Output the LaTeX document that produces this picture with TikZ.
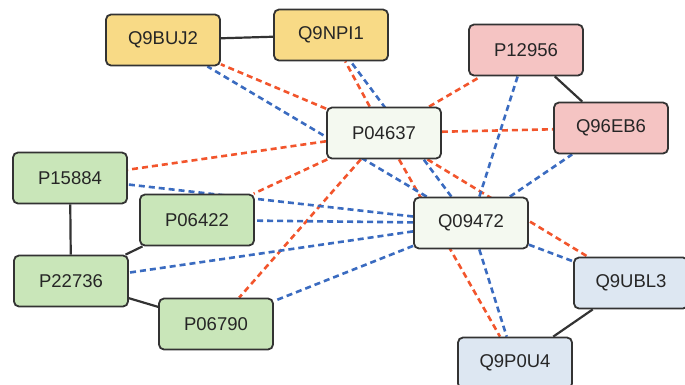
\documentclass[tikz,border=0pt]{standalone}
\usepackage{fontspec}
\setmainfont{Liberation Sans}
\usetikzlibrary{backgrounds}
\definecolor{yel}{HTML}{F8DA86}
\definecolor{grn}{HTML}{C9E6B9}
\definecolor{pnk}{HTML}{F5C4C3}
\definecolor{lbl}{HTML}{DDE7F2}
\definecolor{hub}{HTML}{F4F9F0}
\definecolor{redd}{HTML}{F2552C}
\definecolor{blud}{HTML}{3A6BC0}
\begin{document}
\begin{tikzpicture}[x=1pt,y=-1pt,font=\fontsize{18.5}{22}\selectfont,
  prot/.style={draw=black!80,line width=1.8pt,rounded corners=5pt,minimum width=114pt,minimum height=51pt,inner sep=0pt,text=black!85},
  link/.style={line width=2.2pt,black!80},
  redl/.style={draw=redd,line width=2.6pt,dash pattern=on 6pt off 4pt},
  blul/.style={draw=blud,line width=2.6pt,dash pattern=on 6pt off 4pt}]
\useasboundingbox (0,0) rectangle (685,384);
% proteins
\node[prot,fill=yel] (q9buj2) at (163,40) {Q9BUJ2};
\node[prot,fill=yel] (q9npi1) at (331,35) {Q9NPI1};
\node[prot,fill=pnk] (p12956) at (526,50) {P12956};
\node[prot,fill=pnk] (q96eb6) at (611,128) {Q96EB6};
\node[prot,fill=hub] (p04637) at (384,133) {P04637};
\node[prot,fill=hub] (q09472) at (471,223) {Q09472};
\node[prot,fill=grn] (p15884) at (70,178) {P15884};
\node[prot,fill=grn] (p06422) at (197,220) {P06422};
\node[prot,fill=grn] (p22736) at (71,281) {P22736};
\node[prot,fill=grn] (p06790) at (216,324) {P06790};
\node[prot,fill=lbl] (q9ubl3) at (631,283) {Q9UBL3};
\node[prot,fill=lbl] (q9p0u4) at (515,363) {Q9P0U4};
\begin{pgfonlayer}{background}
% solid links
\draw[link] (q9buj2) -- (q9npi1);
\draw[link] (p12956) -- (q96eb6);
\draw[link] (p15884) -- (p22736);
\draw[link] (p22736) -- (p06422);
\draw[link] (p22736) -- (p06790);
\draw[link] (q9ubl3) -- (q9p0u4);
% dashed links
\foreach \n in {q9buj2,q9npi1,p12956,q96eb6,p15884,p06422,p06790,q9ubl3,q9p0u4}
  \draw[redl] (p04637) -- (\n);
\foreach \n in {q9buj2,q9npi1,p12956,q96eb6,p15884,p06422,p22736,p06790,q9ubl3,q9p0u4}
  \draw[blul] (q09472) -- (\n);
\end{pgfonlayer}
\end{tikzpicture}
\end{document}
